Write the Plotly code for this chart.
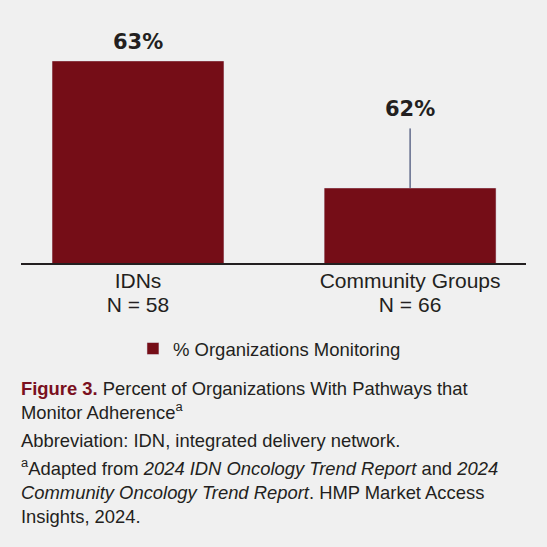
import plotly.graph_objects as go

groups = ["IDNs", "Community Groups"]
sample_sizes = [58, 66]
pct_monitoring = [63, 62]
series_name = "% Organizations Monitoring"

caption_title = "Figure 3."
caption_rest = "Percent of Organizations With Pathways that<br>Monitor Adherence<sup>a</sup>"
abbreviation = "Abbreviation: IDN, integrated delivery network."
footnote = ("<sup>a</sup>Adapted from <i>2024 IDN Oncology Trend Report</i> and <i>2024</i><br>"
            "<i>Community Oncology Trend Report</i>. HMP Market Access<br>Insights, 2024.")

bar_color = "#750d17"
text_color = "#231f20"
bg = "#f0f0f0"

xs = list(range(len(groups)))

fig = go.Figure()
fig.add_trace(go.Bar(x=xs, y=pct_monitoring, name=series_name, marker_color=bar_color,
                     width=0.632, showlegend=True, hoverinfo="skip"))

# value labels above bars (second one sits higher with a leader line)
leader = [False, True]
pct_font = dict(family="DejaVu Sans", size=21, color=text_color)
for x, v, has_leader in zip(xs, pct_monitoring, leader):
    if has_leader:
        fig.add_annotation(x=x, y=v, text=f"<b>{v}%</b>", showarrow=True, arrowhead=0,
                           arrowwidth=1, arrowcolor="#1c2a5a", ax=0, ay=-79,
                           startstandoff=6, font=pct_font)
    else:
        fig.add_annotation(x=x, y=v, text=f"<b>{v}%</b>", showarrow=False, yanchor="middle",
                           yshift=19, font=pct_font)

def py(p):
    # pixel row -> paper y (plot area spans rows 20..263)
    return (263 - p) / 243

cap_font = dict(family="Liberation Sans", size=18.4, color=text_color)
fig.add_annotation(xref="paper", yref="paper", x=-0.003, y=py(400.8), xanchor="left", yanchor="middle",
                   align="left", showarrow=False, font=cap_font,
                   text=f"<b><span style='color:#7a1020'>{caption_title}</span></b> {caption_rest}")
fig.add_annotation(xref="paper", yref="paper", x=-0.003, y=py(440), xanchor="left", yanchor="middle",
                   align="left", showarrow=False, font=cap_font, text=abbreviation)
fig.add_annotation(xref="paper", yref="paper", x=-0.003, y=py(490.8), xanchor="left", yanchor="middle",
                   align="left", showarrow=False, font=cap_font, text=footnote)

fig.update_layout(
    width=547, height=547,
    margin=dict(l=21, r=21, t=20, b=284),
    paper_bgcolor=bg, plot_bgcolor=bg,
    font=dict(family="Liberation Sans", color=text_color),
    xaxis=dict(range=[-0.430, 1.426], tickvals=xs, ticktext=groups, showline=True,
               linecolor=text_color, linewidth=2, showgrid=False, zeroline=False, ticks="",
               ticklabelstandoff=-2, tickfont=dict(size=21, color=text_color)),
    xaxis2=dict(range=[-0.430, 1.426], overlaying="x", anchor="y", side="bottom",
                tickvals=xs, ticktext=[f"N = {n}" for n in sample_sizes], showline=False,
                showgrid=False, zeroline=False, ticks="", ticklabelstandoff=27,
                tickfont=dict(size=21, color=text_color)),
    yaxis=dict(range=[61.409, 63.322], visible=False),
    legend=dict(orientation="h", x=0.2217, xanchor="left", y=py(349), yanchor="middle",
                font=dict(size=18.5, color=text_color), bgcolor="rgba(0,0,0,0)"),
)

# invisible trace so the second axis is drawn
fig.add_trace(go.Scatter(x=xs, y=pct_monitoring, xaxis="x2", mode="markers",
                         marker=dict(opacity=0), showlegend=False, hoverinfo="skip"))

fig.write_html("out.html", config={"displayModeBar": False},
               post_script="document.body.style.margin='0';")
